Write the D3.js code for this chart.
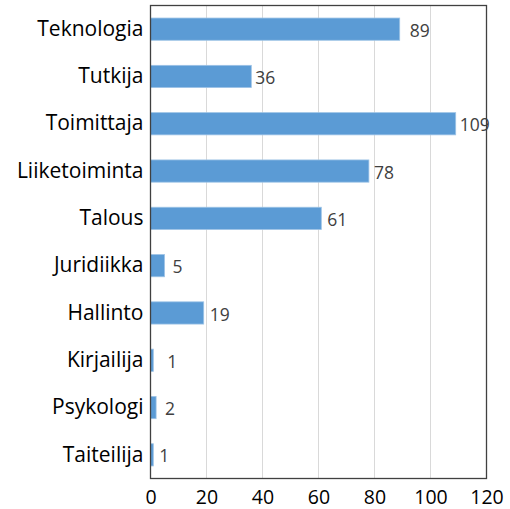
<!DOCTYPE html>
<html><head><meta charset="utf-8">
<script src="https://cdn.jsdelivr.net/npm/d3@7"></script>
<style>body{margin:0;background:#fff}svg{display:block}</style>
</head><body>
<script>
const categories = ["Teknologia","Tutkija","Toimittaja","Liiketoiminta","Talous","Juridiikka","Hallinto","Kirjailija","Psykologi","Taiteilija"];
const values = [89,36,109,78,61,5,19,1,2,1];
const xTicks = [0,20,40,60,80,100,120];
// extra horizontal nudge of each value label (layout only)
const labelNudge = [10,4,4,5,6,8,6,14,9,6];

const W=510,H=509;
const m={l:150.5,r:23.5,t:5.5,b:30.5};
const svg=d3.select("body").append("svg").attr("width",W).attr("height",H);
const x=d3.scaleLinear().domain([0,120]).range([m.l,W-m.r]);
const y=d3.scaleBand().domain(categories).range([m.t,H-m.b]).paddingInner(0.53).paddingOuter(0.265);
const font="'Open Sans', sans-serif";

// gridlines
svg.append("g").selectAll("line").data(xTicks.slice(1,-1)).join("line")
  .attr("x1",d=>x(d)).attr("x2",d=>x(d)).attr("y1",m.t).attr("y2",H-m.b)
  .attr("stroke","#d9d9d9").attr("stroke-width",1);

// bars
svg.append("g").selectAll("rect").data(values).join("rect")
  .attr("x",x(0)).attr("y",(d,i)=>y(categories[i]))
  .attr("width",d=>x(d)-x(0)).attr("height",y.bandwidth())
  .attr("fill","#5b9bd5").attr("stroke","#9dc3e6").attr("stroke-width",0.8);

// value labels
svg.append("g").selectAll("text").data(values).join("text")
  .attr("x",(d,i)=>x(d)+labelNudge[i]).attr("y",(d,i)=>y(categories[i])+y.bandwidth()/2+1.5)
  .attr("dy","0.35em").attr("font-family",font).attr("font-size",17.5).attr("fill","#404040")
  .text(d=>d);

// frame
svg.append("rect").attr("x",m.l).attr("y",m.t).attr("width",W-m.r-m.l).attr("height",H-m.b-m.t)
  .attr("fill","none").attr("stroke","#404040").attr("stroke-width",1.3);

// y axis labels
const ya=svg.append("g").attr("transform",`translate(${m.l},0)`)
  .call(d3.axisLeft(y).tickSize(0).tickPadding(7));
ya.select(".domain").remove();
ya.selectAll("text").attr("font-family",font).attr("font-size",21).attr("fill","#000");

// x axis
const xa=svg.append("g").attr("transform",`translate(0,${H-m.b})`)
  .call(d3.axisBottom(x).tickValues(xTicks).tickSize(0).tickPadding(12));
xa.select(".domain").remove();
xa.selectAll("text").attr("font-family",font).attr("font-size",19.5).attr("fill","#000");
</script>
</body></html>
